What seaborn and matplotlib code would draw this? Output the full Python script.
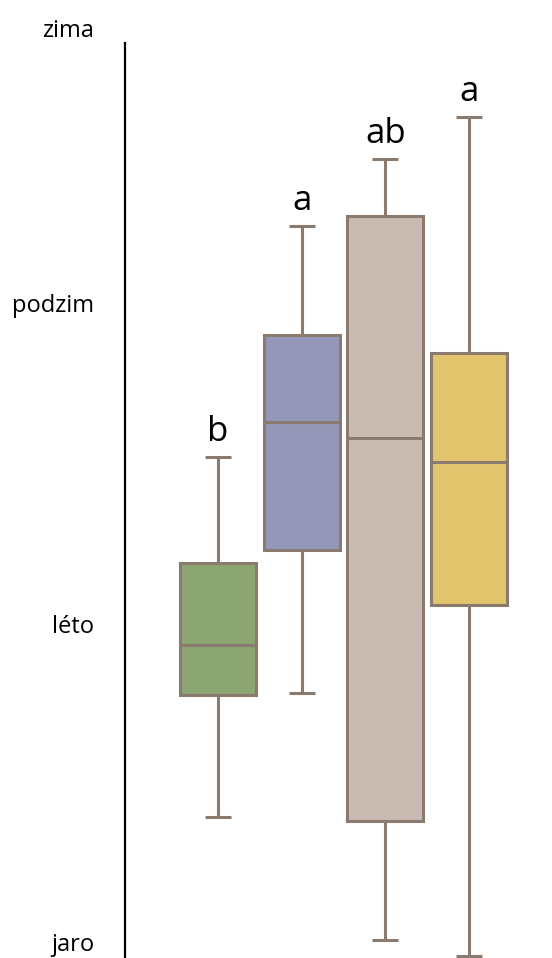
import numpy as np
import pandas as pd
import seaborn as sns
import matplotlib
matplotlib.use("Agg")
import matplotlib.pyplot as plt

# Five-number summaries (min, q1, median, q3, max) on a season scale
# jaro=1, léto=2, podzim=3, zima≈3.86 (label position)
groups = ["g1", "g2", "g3", "g4"]
g1 = [1.40, 1.78, 1.935, 2.19, 2.52]
g2 = [1.785, 2.23, 2.63, 2.90, 3.24]
g3 = [1.015, 1.385, 2.58, 3.27, 3.45]
g4 = [0.966, 2.06, 2.505, 2.845, 3.58]
letters = ["b", "a", "ab", "a"]
colors = ["#8ba673", "#9497b8", "#c9bbb2", "#e2c46d"]
tick_vals = [1.01, 2, 3, 3.857]
tick_labels = ["jaro", "léto", "podzim", "zima"]

sns.set_style("white")
plt.rcParams["font.family"] = ["Open Sans", "DejaVu Sans"]

df = pd.DataFrame({
    "group": np.repeat(groups, 5),
    "value": np.concatenate([g1, g2, g3, g4]),
})

fig = plt.figure(figsize=(5.52, 9.58), dpi=100)
ax = fig.add_axes([125 / 552, 0, 1 - 125 / 552, 1])

edge = "#8b7b6e"
sns.boxplot(data=df, x="group", y="value", hue="group", palette=colors,
            saturation=1, whis=(0, 100), width=0.91, linecolor=edge,
            linewidth=2.2, legend=False, ax=ax, capwidths=0.31, fliersize=0)

for line in ax.lines:
    line.set_solid_capstyle("butt")

maxes = [max(g) for g in (g1, g2, g3, g4)]
for i, (m, t) in enumerate(zip(maxes, letters)):
    ax.text(i, m + 0.025, t, ha="center", va="bottom", fontsize=25,
            color="black")

ax.set_xlim(-1.11, 3.99)
ax.set_ylim(1 - 13 / 321, 1 + 945 / 321)
ax.set_yticks(tick_vals)
ax.set_yticklabels(tick_labels, fontsize=17, color="black")
ax.tick_params(axis="y", length=0, pad=22)
ax.set_xticks([])
ax.set_xlabel("")
ax.set_ylabel("")
for s in ["top", "right", "bottom"]:
    ax.spines[s].set_visible(False)
ax.spines["left"].set_color("black")
ax.spines["left"].set_linewidth(1.6)
ax.spines["left"].set_bounds(0.96, 3.81)

fig.savefig("out.png", dpi=100)
